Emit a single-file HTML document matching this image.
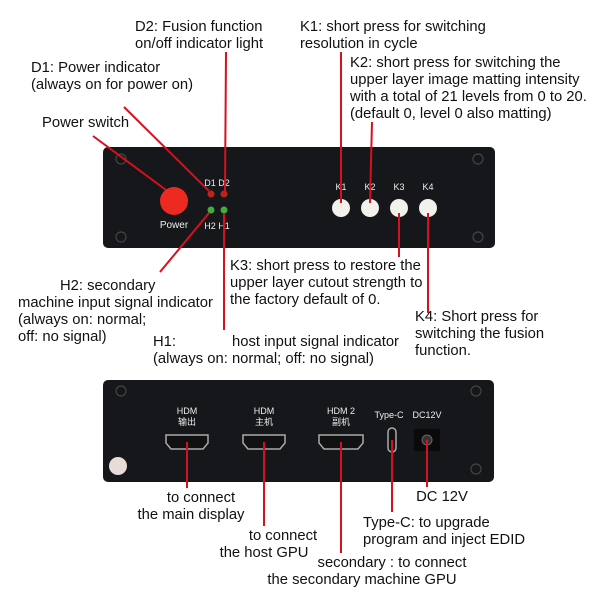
<!DOCTYPE html>
<html><head><meta charset="utf-8"><style>
body{margin:0;background:#fff}
svg text{font-family:"Liberation Sans","Noto Sans CJK SC",sans-serif;fill:#111}
.t{font-size:14.8px}
.p{font-size:9px;fill:#eee}
</style></head><body>
<svg width="596" height="596" viewBox="0 0 596 596">
<g>
<rect x="103" y="147" width="392" height="101" rx="5" fill="#15171a"/>
<g fill="none" stroke="#444" stroke-width="1.2"><circle cx="121" cy="159" r="5"/><circle cx="121" cy="237" r="5"/><circle cx="478" cy="159" r="5"/><circle cx="478" cy="237" r="5"/></g>
<circle cx="174" cy="201" r="14" fill="#ec2a22"/>
<text class="p" x="174" y="228" text-anchor="middle" style="font-size:10px">Power</text>
<text class="p" x="210" y="186" text-anchor="middle">D1</text><text class="p" x="224" y="186" text-anchor="middle">D2</text>
<text class="p" x="210" y="229" text-anchor="middle">H2</text><text class="p" x="224" y="229" text-anchor="middle">H1</text>
<circle cx="211" cy="194" r="3.5" fill="#c0221c"/><circle cx="224" cy="194" r="3.5" fill="#c0221c"/>
<circle cx="211" cy="210" r="3.5" fill="#3fae3a"/><circle cx="224" cy="210" r="3.5" fill="#3fae3a"/>
<text class="p" x="341" y="190" text-anchor="middle">K1</text><text class="p" x="370" y="190" text-anchor="middle">K2</text>
<text class="p" x="399" y="190" text-anchor="middle">K3</text><text class="p" x="428" y="190" text-anchor="middle">K4</text>
<circle cx="341" cy="208" r="9" fill="#f3f1ec"/>
<circle cx="370" cy="208" r="9" fill="#f3f1ec"/>
<circle cx="399" cy="208" r="9" fill="#f3f1ec"/>
<circle cx="428" cy="208" r="9" fill="#f3f1ec"/>
</g>
<g>
<rect x="103" y="380" width="391" height="102" rx="5" fill="#15171a"/>
<g fill="none" stroke="#444" stroke-width="1.2"><circle cx="121" cy="391" r="5"/><circle cx="476" cy="391" r="5"/><circle cx="476" cy="469" r="5"/></g>
<circle cx="118" cy="466" r="9" fill="#e8dcd8"/>
<text class="p" x="187" y="414" text-anchor="middle">HDM</text><text class="p" x="187" y="425" text-anchor="middle">输出</text>
<text class="p" x="264" y="414" text-anchor="middle">HDM</text><text class="p" x="264" y="425" text-anchor="middle">主机</text>
<text class="p" x="341" y="414" text-anchor="middle">HDM 2</text><text class="p" x="341" y="425" text-anchor="middle">副机</text>
<text class="p" x="389" y="418" text-anchor="middle">Type-C</text><text class="p" x="427" y="418" text-anchor="middle">DC12V</text>
<g fill="#111" stroke="#aaa" stroke-width="1.5">
<path d="M166 435h42v8l-5 6h-32l-5-6z"/><path d="M243 435h42v8l-5 6h-32l-5-6z"/><path d="M319 435h44v8l-5 6h-34l-5-6z"/>
<rect x="388" y="428" width="8" height="24" rx="4"/></g>
<rect x="414" y="429" width="26" height="22" fill="#0a0a0a"/><circle cx="427" cy="440" r="5" fill="#333" stroke="#666"/>
</g>
<g stroke="#d6101e" stroke-width="2" fill="none">
<line x1="93" y1="136" x2="166" y2="190"/>
<line x1="124" y1="107" x2="209" y2="191"/>
<line x1="226" y1="52" x2="225" y2="191"/>
<line x1="341" y1="52" x2="341" y2="203"/>
<line x1="372" y1="122" x2="370" y2="203"/>
<line x1="399" y1="213" x2="399" y2="257"/>
<line x1="428" y1="213" x2="428" y2="313"/>
<line x1="209" y1="213" x2="160" y2="272"/>
<line x1="224" y1="213" x2="224" y2="330"/>
<line x1="187" y1="442" x2="187" y2="488"/>
<line x1="264" y1="442" x2="264" y2="526"/>
<line x1="341" y1="442" x2="341" y2="553"/>
<line x1="392" y1="440" x2="392" y2="512"/>
<line x1="427" y1="440" x2="427" y2="487"/>
</g>
<g>
<text class="t" x="135" y="31">D2: Fusion function</text><text class="t" x="135" y="48">on/off indicator light</text>
<text class="t" x="300" y="31">K1: short press for switching</text><text class="t" x="300" y="48">resolution in cycle</text>
<text class="t" x="350" y="67">K2: short press for switching the</text>
<text class="t" x="350" y="84">upper layer image matting intensity</text>
<text class="t" x="350" y="101">with a total of 21 levels from 0 to 20.</text>
<text class="t" x="350" y="118">(default 0, level 0 also matting)</text>
<text class="t" x="31" y="72">D1: Power indicator</text><text class="t" x="31" y="89">(always on for power on)</text>
<text class="t" x="42" y="127">Power switch</text>
<text class="t" x="60" y="290">H2:   secondary</text>
<text class="t" x="18" y="307">machine input signal indicator</text>
<text class="t" x="18" y="324">(always on: normal;</text>
<text class="t" x="18" y="341">off: no signal)</text>
<text class="t" x="230" y="270">K3: short press to restore the</text>
<text class="t" x="230" y="287">upper layer cutout strength to</text>
<text class="t" x="230" y="304">the factory default of 0.</text>
<text class="t" x="415" y="321">K4: Short press for</text>
<text class="t" x="415" y="338">switching the fusion</text>
<text class="t" x="415" y="355">function.</text>
<text class="t" x="153" y="346">H1:</text><text class="t" x="232" y="346">host input signal indicator</text>
<text class="t" x="153" y="363">(always on:  normal; off: no signal)</text>
<text class="t" x="201" y="502" text-anchor="middle">to connect</text>
<text class="t" x="191" y="519" text-anchor="middle">the main display</text>
<text class="t" x="283" y="540" text-anchor="middle">to connect</text>
<text class="t" x="264" y="557" text-anchor="middle">the host GPU</text>
<text class="t" x="392" y="567" text-anchor="middle">secondary : to connect</text>
<text class="t" x="362" y="584" text-anchor="middle">the secondary machine GPU</text>
<text class="t" x="442" y="501" text-anchor="middle">DC 12V</text>
<text class="t" x="363" y="527">Type-C: to upgrade</text>
<text class="t" x="363" y="544">program and inject EDID</text>
</g>
</svg>
</body></html>
